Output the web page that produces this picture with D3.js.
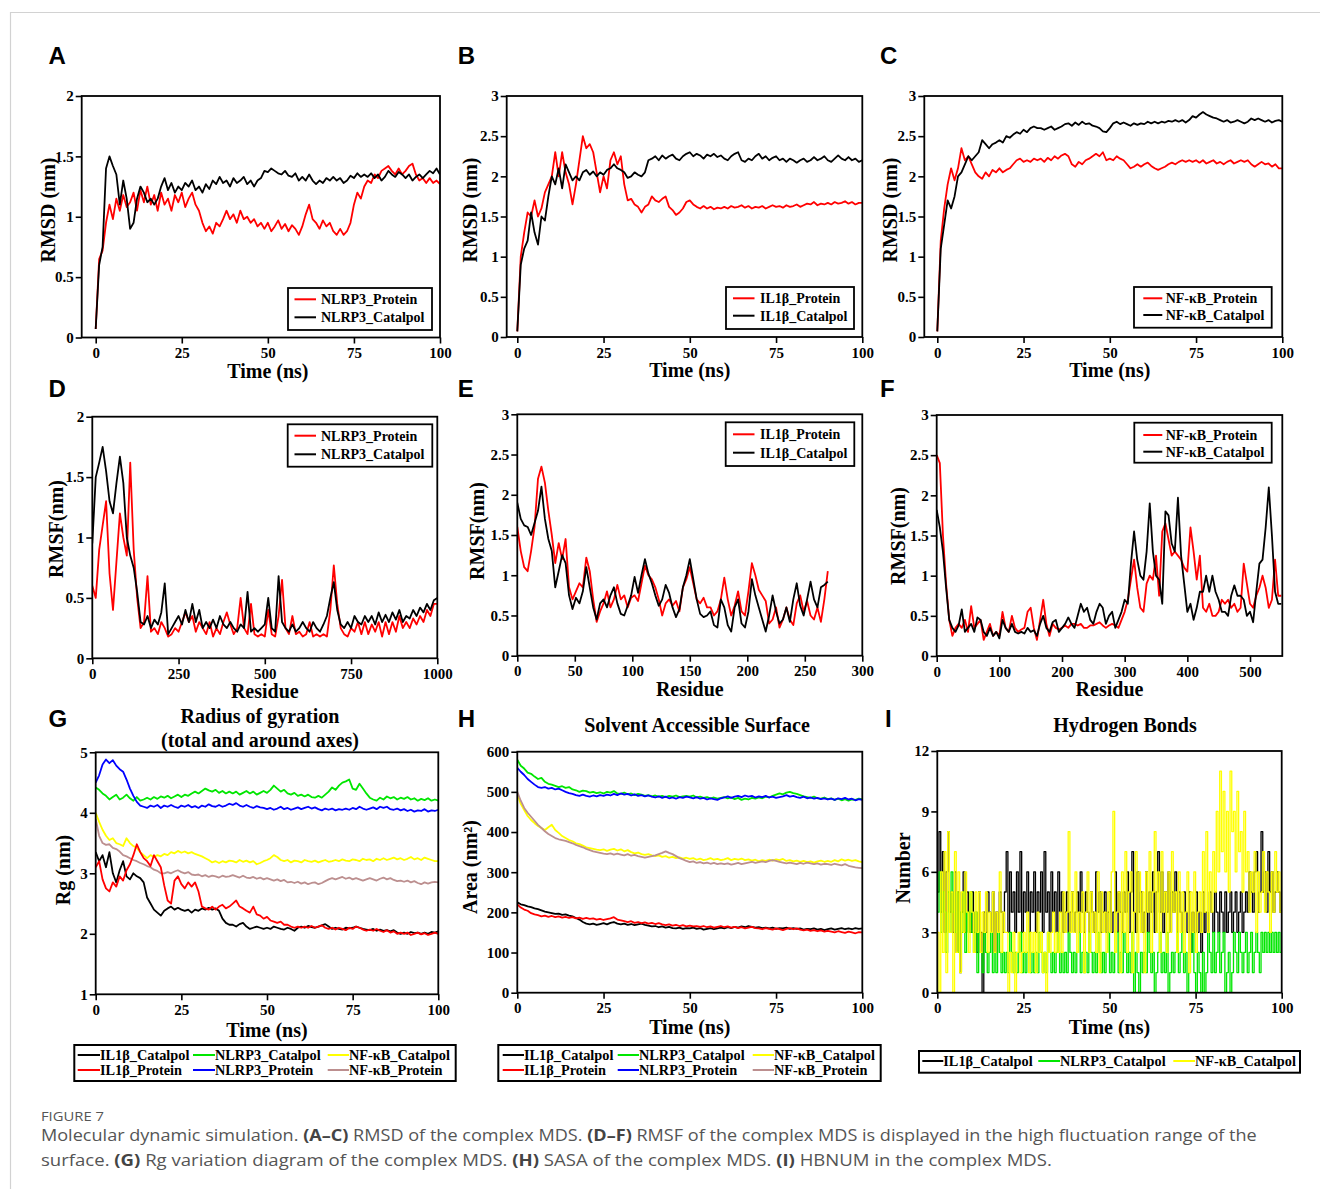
<!DOCTYPE html>
<html><head><meta charset="utf-8">
<script src="https://cdn.jsdelivr.net/npm/d3@7"></script>
<style>body{margin:0;background:#fff}svg{display:block}</style>
</head><body>
<script>
// ---------------- DATA ----------------
const timeNs = d3.range(0, 101, 1);            // 0..100 ns, 1 ns sampling
const hbondTime = d3.range(0, 100.25, 0.5);    // 0..100 ns, 0.5 ns sampling
const residueNlrp3 = d3.range(0, 1001, 10);
const residueIl1b = d3.range(0, 271, 3);
const residueNfkb = d3.range(0, 551, 5);

const timeTicks = [0, 25, 50, 75, 100];

// A: RMSD NLRP3
const rmsdNlrp3Protein = [0.07,0.65,0.72,0.95,1.1,0.98,1.15,1.05,1.18,1.08,
 1.12,1.2,1.05,1.22,1.12,1.25,1.1,1.18,1.05,1.2,
 1.1,1.15,1.05,1.18,1.12,1.2,1.08,1.15,1.2,1.1,
 1.05,0.95,0.88,0.92,0.86,0.95,0.92,0.98,1.05,0.98,
 1.02,0.95,1.05,0.98,1.0,0.95,0.98,0.92,0.95,0.9,
 0.95,0.88,0.92,0.97,0.9,0.94,0.88,0.93,0.9,0.85,
 0.92,1.02,1.1,0.98,0.95,0.9,0.97,0.92,0.95,0.88,
 0.85,0.9,0.85,0.88,0.95,1.1,1.2,1.15,1.25,1.3,
 1.28,1.35,1.32,1.38,1.4,1.42,1.38,1.35,1.4,1.35,
 1.38,1.42,1.44,1.35,1.3,1.32,1.28,1.32,1.28,1.3,1.27];
const rmsdNlrp3Catalpol = [0.07,0.6,0.75,1.4,1.5,1.42,1.35,1.1,1.3,1.15,
 0.9,0.95,1.15,1.25,1.2,1.12,1.15,1.1,1.15,1.25,
 1.32,1.22,1.28,1.2,1.25,1.22,1.28,1.25,1.3,1.22,
 1.25,1.2,1.27,1.23,1.3,1.27,1.33,1.28,1.3,1.25,
 1.32,1.28,1.3,1.33,1.27,1.3,1.25,1.3,1.32,1.38,
 1.37,1.4,1.38,1.36,1.35,1.38,1.34,1.33,1.36,1.3,
 1.33,1.3,1.35,1.3,1.27,1.3,1.28,1.32,1.3,1.33,
 1.3,1.32,1.28,1.3,1.34,1.32,1.36,1.33,1.35,1.33,
 1.36,1.32,1.35,1.3,1.33,1.38,1.35,1.33,1.37,1.35,
 1.32,1.35,1.3,1.33,1.35,1.32,1.35,1.38,1.36,1.4,1.35];

// B: RMSD IL1β
const rmsdIl1bProtein = [0.07,1.0,1.3,1.55,1.5,1.7,1.5,1.6,1.8,1.9,
 2.0,2.3,2.0,2.3,2.05,1.9,1.65,1.9,2.2,2.5,
 2.35,2.4,2.3,2.05,1.8,2.0,1.85,2.2,2.3,2.15,
 2.25,1.9,1.7,1.72,1.65,1.62,1.55,1.62,1.65,1.75,
 1.7,1.68,1.72,1.75,1.62,1.58,1.52,1.55,1.6,1.68,
 1.7,1.65,1.62,1.6,1.63,1.6,1.62,1.59,1.61,1.6,
 1.62,1.6,1.63,1.61,1.62,1.64,1.61,1.63,1.6,1.62,
 1.61,1.63,1.6,1.62,1.64,1.62,1.63,1.61,1.64,1.62,
 1.63,1.65,1.62,1.64,1.66,1.65,1.68,1.64,1.66,1.65,
 1.67,1.65,1.68,1.66,1.67,1.69,1.66,1.68,1.65,1.67,1.67];
const rmsdIl1bCatalpol = [0.07,0.9,1.1,1.2,1.55,1.3,1.15,1.5,1.45,1.75,
 2.0,1.9,2.1,1.85,2.15,2.05,1.95,2.0,1.95,2.05,
 2.08,2.02,2.06,2.0,2.05,2.02,2.08,2.1,2.15,2.1,
 2.08,2.05,1.98,2.0,2.05,2.02,2.0,2.05,2.2,2.22,
 2.25,2.2,2.26,2.22,2.25,2.27,2.22,2.2,2.25,2.28,
 2.3,2.25,2.28,2.26,2.22,2.27,2.25,2.28,2.24,2.26,
 2.22,2.2,2.25,2.28,2.3,2.2,2.18,2.22,2.2,2.25,
 2.28,2.22,2.25,2.2,2.23,2.25,2.2,2.22,2.18,2.22,
 2.2,2.17,2.2,2.22,2.18,2.2,2.24,2.2,2.22,2.25,
 2.2,2.18,2.22,2.26,2.22,2.2,2.24,2.2,2.22,2.18,2.2];

// C: RMSD NF-κB
const rmsdNfkbProtein = [0.07,1.2,1.6,1.9,2.1,1.95,2.1,2.35,2.2,2.25,
 2.15,2.05,2.0,1.97,2.05,2.0,2.08,2.05,2.1,2.05,
 2.08,2.1,2.15,2.2,2.22,2.18,2.2,2.18,2.22,2.2,
 2.22,2.18,2.23,2.2,2.25,2.22,2.26,2.28,2.25,2.15,
 2.12,2.18,2.15,2.2,2.22,2.25,2.28,2.25,2.3,2.2,
 2.22,2.2,2.25,2.22,2.2,2.15,2.1,2.12,2.15,2.12,
 2.15,2.17,2.13,2.1,2.08,2.1,2.12,2.15,2.17,2.15,
 2.18,2.2,2.18,2.2,2.18,2.2,2.17,2.2,2.16,2.18,
 2.2,2.16,2.18,2.15,2.18,2.2,2.16,2.18,2.2,2.18,
 2.2,2.15,2.12,2.15,2.18,2.15,2.16,2.12,2.15,2.1,2.1];
const rmsdNfkbCatalpol = [0.07,1.1,1.4,1.7,1.6,1.75,2.0,2.05,2.15,2.25,
 2.2,2.25,2.3,2.45,2.4,2.35,2.4,2.42,2.45,2.42,
 2.5,2.48,2.52,2.55,2.53,2.58,2.55,2.6,2.62,2.6,
 2.6,2.58,2.6,2.62,2.58,2.6,2.62,2.65,2.66,2.63,
 2.67,2.64,2.68,2.65,2.66,2.63,2.62,2.6,2.56,2.55,
 2.6,2.66,2.68,2.65,2.67,2.65,2.63,2.66,2.64,2.66,
 2.65,2.68,2.66,2.68,2.66,2.68,2.67,2.69,2.68,2.7,
 2.68,2.7,2.67,2.7,2.75,2.73,2.77,2.8,2.77,2.75,
 2.73,2.72,2.7,2.68,2.7,2.67,2.68,2.7,2.68,2.66,
 2.68,2.72,2.7,2.72,2.7,2.68,2.7,2.67,2.69,2.7,2.68];

// D: RMSF NLRP3 (residue 0..1000, step 10)
const rmsfNlrp3Protein = [0.6,0.5,0.9,1.1,1.3,0.7,0.4,0.8,1.2,1.0,
 0.85,1.62,0.9,0.5,0.25,0.3,0.68,0.22,0.25,0.2,
 0.3,0.25,0.18,0.2,0.25,0.22,0.3,0.38,0.3,0.35,
 0.22,0.3,0.25,0.2,0.3,0.18,0.25,0.2,0.3,0.38,
 0.28,0.2,0.25,0.5,0.25,0.2,0.45,0.2,0.18,0.2,
 0.18,0.4,0.2,0.18,0.35,0.65,0.25,0.2,0.35,0.2,
 0.22,0.18,0.2,0.3,0.18,0.2,0.18,0.2,0.18,0.4,
 0.77,0.45,0.25,0.2,0.18,0.25,0.22,0.3,0.2,0.3,
 0.2,0.28,0.22,0.3,0.18,0.3,0.2,0.3,0.22,0.35,
 0.25,0.3,0.25,0.33,0.28,0.35,0.3,0.4,0.35,0.45,0.45];
const rmsfNlrp3Catalpol = [0.95,1.5,1.62,1.75,1.55,1.3,1.2,1.45,1.67,1.45,
 1.0,0.85,0.75,0.55,0.3,0.28,0.35,0.25,0.32,0.28,
 0.38,0.62,0.2,0.25,0.3,0.35,0.28,0.4,0.3,0.45,
 0.3,0.4,0.25,0.3,0.25,0.32,0.25,0.35,0.28,0.25,
 0.3,0.25,0.22,0.28,0.25,0.55,0.22,0.25,0.22,0.25,
 0.28,0.5,0.25,0.22,0.68,0.3,0.25,0.22,0.28,0.22,
 0.25,0.3,0.25,0.22,0.3,0.25,0.22,0.28,0.35,0.5,
 0.63,0.4,0.28,0.25,0.3,0.25,0.35,0.3,0.28,0.35,
 0.3,0.35,0.28,0.38,0.3,0.36,0.3,0.38,0.32,0.4,
 0.3,0.35,0.33,0.4,0.35,0.42,0.38,0.45,0.4,0.48,0.5];

// E: RMSF IL1β (residue 0..270, step 3)
const rmsfIl1bProtein = [1.6,1.3,1.1,1.05,1.3,1.6,2.2,2.35,2.15,1.8,
 1.5,1.15,1.4,1.2,1.45,0.85,0.7,0.8,0.9,0.85,
 1.22,1.05,0.7,0.42,0.55,0.65,0.8,0.6,0.7,0.88,
 0.7,0.75,0.6,0.72,0.75,0.68,0.9,1.12,1.0,0.95,
 0.85,0.7,0.5,0.65,0.7,0.62,0.68,0.55,0.85,0.95,
 1.1,0.9,0.7,0.65,0.72,0.6,0.6,0.5,0.55,0.7,
 0.97,0.7,0.5,0.62,0.8,0.55,0.5,0.8,1.15,1.0,
 0.82,0.75,0.68,0.4,0.45,0.6,0.35,0.45,0.6,0.45,
 0.38,0.65,0.75,0.55,0.68,0.5,0.45,0.6,0.42,0.7,1.05];
const rmsfIl1bCatalpol = [1.9,1.7,1.62,1.6,1.5,1.65,1.8,2.1,1.7,1.45,
 1.3,0.85,1.05,1.25,1.15,0.75,0.58,0.72,0.65,0.8,
 1.1,0.85,0.6,0.45,0.65,0.7,0.6,0.75,0.85,0.65,
 0.52,0.5,0.62,0.75,0.98,0.78,1.0,1.2,1.02,0.9,
 0.75,0.62,0.7,0.88,0.78,0.6,0.48,0.58,0.85,1.0,
 1.2,0.95,0.7,0.52,0.48,0.5,0.55,0.38,0.35,0.7,
 0.6,0.38,0.3,0.6,0.7,0.4,0.35,0.55,0.95,0.75,
 0.6,0.45,0.3,0.5,0.75,0.55,0.4,0.45,0.6,0.42,
 0.7,0.9,0.62,0.5,0.7,0.92,0.7,0.6,0.85,0.88,0.92];

// F: RMSF NF-κB (residue 0..550, step 5)
const rmsfNfkbProtein = [2.5,2.4,1.5,0.9,0.45,0.25,0.35,0.4,0.35,0.45,
 0.3,0.62,0.35,0.4,0.45,0.2,0.3,0.4,0.25,0.3,
 0.25,0.55,0.35,0.3,0.5,0.35,0.3,0.33,0.35,0.55,
 0.6,0.35,0.2,0.45,0.7,0.4,0.25,0.4,0.35,0.33,
 0.35,0.38,0.35,0.4,0.4,0.38,0.4,0.35,0.35,0.38,
 0.38,0.4,0.42,0.38,0.35,0.38,0.4,0.38,0.35,0.45,
 0.55,0.7,0.95,1.2,0.85,0.6,0.55,0.9,1.0,0.95,
 1.25,0.75,1.55,1.65,1.45,1.25,1.3,1.25,1.2,1.1,
 1.05,1.6,1.3,0.95,1.25,0.6,0.55,0.65,0.5,0.5,
 0.55,0.7,0.65,0.7,0.6,0.65,0.55,0.6,1.15,0.9,
 0.65,0.6,0.75,0.85,1.0,0.85,0.6,0.7,1.2,0.75,0.75];
const rmsfNfkbCatalpol = [1.82,1.6,1.3,0.85,0.45,0.35,0.3,0.38,0.58,0.3,
 0.35,0.4,0.3,0.48,0.45,0.3,0.25,0.35,0.25,0.3,
 0.22,0.45,0.35,0.3,0.4,0.3,0.28,0.3,0.28,0.35,
 0.3,0.32,0.25,0.4,0.5,0.35,0.3,0.42,0.45,0.3,
 0.35,0.4,0.48,0.4,0.35,0.5,0.65,0.55,0.6,0.45,
 0.4,0.55,0.65,0.6,0.4,0.5,0.55,0.35,0.45,0.55,
 0.7,0.65,1.15,1.55,1.2,1.0,0.95,1.3,1.9,1.3,
 1.0,0.95,0.65,1.8,1.75,1.4,1.3,1.97,1.25,0.9,
 0.55,0.65,0.45,0.6,0.8,0.8,1.0,0.8,1.0,0.8,
 0.7,0.55,0.55,0.5,0.75,0.88,0.75,0.75,0.7,0.5,
 0.55,0.42,0.8,1.15,1.2,1.6,2.1,1.5,0.8,0.65,0.65];

// G: Radius of gyration
const rgIl1bCatalpol = [3.35,3.2,3.3,3.1,3.35,3.0,2.85,3.05,3.2,2.95,
 2.9,3.0,2.95,2.92,2.85,2.6,2.5,2.4,2.35,2.3,
 2.38,2.42,2.45,2.4,2.43,2.4,2.38,2.4,2.35,2.4,
 2.38,2.42,2.4,2.43,2.4,2.42,2.38,2.25,2.18,2.15,
 2.15,2.12,2.16,2.18,2.12,2.08,2.1,2.12,2.1,2.08,
 2.1,2.08,2.12,2.1,2.08,2.07,2.1,2.08,2.05,2.1,
 2.12,2.1,2.13,2.11,2.1,2.12,2.14,2.16,2.12,2.08,
 2.1,2.08,2.07,2.1,2.09,2.1,2.12,2.1,2.08,2.07,
 2.06,2.08,2.05,2.07,2.05,2.06,2.04,2.06,2.02,2.0,
 2.02,2.0,2.03,2.01,2.02,2.0,2.02,2.0,2.03,2.02,2.04];
const rgIl1bProtein = [3.1,3.2,2.9,2.75,2.7,2.85,2.78,2.95,2.88,3.05,
 3.15,3.3,3.48,3.35,3.25,3.2,3.12,3.3,3.2,3.1,
 2.8,2.55,2.5,2.88,2.95,2.82,2.75,2.85,2.78,2.85,
 2.7,2.45,2.42,2.4,2.45,2.4,2.45,2.48,2.42,2.45,
 2.5,2.55,2.45,2.42,2.38,2.35,2.45,2.32,2.3,2.25,
 2.28,2.22,2.2,2.18,2.2,2.15,2.15,2.12,2.1,2.12,
 2.1,2.12,2.1,2.13,2.1,2.12,2.14,2.1,2.08,2.1,
 2.07,2.1,2.08,2.06,2.1,2.08,2.12,2.1,2.07,2.05,
 2.07,2.05,2.08,2.05,2.03,2.06,2.02,2.04,2.0,2.02,
 2.0,2.02,1.98,2.0,2.02,1.99,2.01,1.98,2.0,2.02,2.0];
const rgNlrp3Catalpol = [4.42,4.38,4.32,4.28,4.22,4.26,4.3,4.22,4.25,4.3,
 4.24,4.2,4.26,4.2,4.22,4.25,4.22,4.26,4.23,4.27,
 4.25,4.28,4.24,4.27,4.3,4.26,4.3,4.28,4.32,4.35,
 4.32,4.36,4.4,4.37,4.35,4.38,4.33,4.36,4.32,4.35,
 4.32,4.35,4.3,4.33,4.36,4.32,4.35,4.3,4.33,4.36,
 4.33,4.38,4.45,4.4,4.35,4.38,4.32,4.3,4.33,4.28,
 4.3,4.27,4.3,4.26,4.25,4.28,4.25,4.3,4.35,4.42,
 4.38,4.45,4.5,4.52,4.55,4.4,4.38,4.48,4.4,4.32,
 4.25,4.22,4.2,4.25,4.22,4.27,4.24,4.26,4.22,4.25,
 4.23,4.26,4.22,4.24,4.2,4.23,4.21,4.24,4.2,4.22,4.2];
const rgNlrp3Protein = [4.5,4.62,4.8,4.88,4.82,4.87,4.78,4.72,4.68,4.55,
 4.4,4.28,4.18,4.12,4.1,4.08,4.12,4.1,4.13,4.08,
 4.12,4.1,4.13,4.1,4.08,4.12,4.1,4.13,4.09,4.11,
 4.08,4.12,4.1,4.14,4.11,4.1,4.13,4.1,4.12,4.15,
 4.13,4.16,4.12,4.1,4.13,4.1,4.08,4.11,4.09,4.08,
 4.06,4.08,4.05,4.07,4.1,4.06,4.08,4.05,4.07,4.09,
 4.06,4.08,4.1,4.07,4.09,4.06,4.04,4.07,4.05,4.07,
 4.04,4.06,4.05,4.07,4.05,4.08,4.06,4.1,4.07,4.05,
 4.07,4.09,4.06,4.1,4.08,4.1,4.06,4.05,4.07,4.04,
 4.06,4.03,4.05,4.02,4.04,4.03,4.06,4.02,4.04,4.03,4.05];
const rgNfkbCatalpol = [4.0,3.85,3.72,3.62,3.55,3.58,3.5,3.48,3.45,3.58,
 3.5,3.45,3.42,3.35,3.3,3.25,3.3,3.27,3.3,3.28,
 3.32,3.3,3.35,3.33,3.37,3.34,3.36,3.33,3.35,3.32,
 3.3,3.28,3.25,3.22,3.18,3.2,3.17,3.2,3.18,3.21,
 3.2,3.18,3.22,3.19,3.21,3.18,3.2,3.15,3.17,3.2,
 3.22,3.25,3.3,3.27,3.22,3.2,3.22,3.18,3.21,3.2,
 3.18,3.22,3.2,3.19,3.21,3.18,3.2,3.22,3.19,3.2,
 3.22,3.2,3.23,3.21,3.2,3.23,3.22,3.2,3.24,3.22,
 3.23,3.2,3.24,3.22,3.25,3.22,3.24,3.26,3.23,3.25,
 3.22,3.24,3.27,3.23,3.25,3.22,3.26,3.24,3.22,3.2,3.2];
const rgNfkbProtein = [3.9,3.62,3.5,3.47,3.48,3.42,3.4,3.36,3.3,3.28,
 3.25,3.22,3.2,3.17,3.15,3.12,3.1,3.06,3.04,3.0,
 3.0,3.02,3.0,3.03,3.05,3.02,3.0,3.02,2.98,2.97,
 2.98,2.95,2.97,2.94,2.96,2.95,2.93,2.96,2.94,2.95,
 2.97,2.95,2.93,2.96,2.93,2.92,2.94,2.91,2.93,2.9,
 2.92,2.9,2.88,2.9,2.87,2.89,2.85,2.86,2.84,2.86,
 2.83,2.85,2.82,2.84,2.85,2.82,2.84,2.87,2.9,2.92,
 2.9,2.92,2.94,2.91,2.93,2.9,2.92,2.9,2.88,2.9,
 2.92,2.9,2.88,2.91,2.93,2.9,2.92,2.89,2.87,2.88,
 2.86,2.88,2.85,2.87,2.84,2.82,2.85,2.83,2.85,2.86,2.85];

// H: Solvent accessible surface
const sasaIl1bCatalpol = [225,220,218,215,213,210,208,205,202,200,
 198,196,197,194,195,192,190,186,182,176,
 172,170,172,169,171,173,170,174,176,172,
 170,172,169,171,168,170,172,169,167,165,
 166,163,165,162,164,161,160,162,159,161,
 160,162,159,161,157,159,161,158,160,162,
 160,163,161,164,162,165,163,166,164,162,
 163,161,162,160,162,159,161,160,162,159,
 161,159,160,157,159,158,160,157,159,156,
 158,160,157,159,161,158,160,158,161,159,160];
const sasaIl1bProtein = [220,212,207,204,198,195,193,190,192,189,
 191,188,190,187,189,186,188,185,187,184,
 186,184,185,182,184,181,183,185,188,182,
 180,178,176,178,174,176,173,175,172,174,
 171,173,170,168,170,167,169,166,168,165,
 167,165,166,164,166,163,165,162,164,166,
 163,165,162,164,161,163,160,162,164,161,
 160,158,161,159,157,160,158,156,159,161,
 158,160,157,155,157,154,156,153,155,152,
 154,152,150,153,151,149,152,150,148,151,150];
const sasaNlrp3Catalpol = [580,565,558,548,545,538,532,535,525,520,
 518,515,512,514,510,512,506,504,500,503,
 502,498,500,497,499,496,500,498,502,496,
 495,498,494,496,492,495,493,490,492,489,
 491,488,490,487,490,488,491,487,489,490,
 488,491,486,488,485,487,484,486,483,485,
 487,484,486,482,485,480,483,481,485,483,
 486,484,488,486,490,493,496,494,498,500,
 497,495,492,489,487,485,488,484,483,486,
 482,484,480,483,479,482,478,481,480,483,482];
const sasaNlrp3Protein = [560,550,542,532,525,518,512,510,512,508,
 510,506,508,504,500,497,495,492,490,493,
 490,488,491,489,492,490,493,491,495,492,
 496,493,495,491,494,490,492,489,491,488,
 486,489,485,488,484,486,483,487,485,488,
 486,484,487,483,485,481,484,482,480,484,
 486,489,485,488,490,487,491,488,490,486,
 489,487,490,486,488,485,487,489,492,488,
 490,487,485,488,484,486,483,485,482,484,
 481,483,480,484,482,485,481,483,479,482,480];
const sasaNfkbCatalpol = [495,470,455,440,430,422,415,410,405,412,
 418,405,398,390,385,380,377,372,370,366,
 362,360,358,356,355,357,353,356,358,354,
 357,352,355,350,347,349,345,343,345,342,
 340,342,338,340,336,338,335,337,334,336,
 333,335,331,334,330,332,335,331,333,330,
 332,335,330,333,331,334,330,332,329,331,
 327,330,328,331,329,332,330,333,328,330,
 327,329,326,328,325,327,324,327,329,326,
 328,326,330,327,332,329,331,328,330,327,325];
const sasaNfkbProtein = [500,478,460,448,438,428,418,410,402,395,
 390,385,382,380,378,375,372,368,365,362,
 358,355,352,350,348,346,345,347,344,346,
 344,342,345,341,343,340,338,336,338,340,
 342,345,348,352,348,345,340,335,332,328,
 325,327,323,325,322,324,321,323,320,322,
 320,322,319,321,323,320,322,324,326,323,
 325,327,325,328,330,328,326,324,322,324,
 322,320,323,321,324,322,320,322,319,321,
 320,318,321,319,317,320,316,314,312,311,310];

// I: Hydrogen bonds (0.5 ns sampling)
const hbIl1bCatalpol = [5,8,4,7,3,6,8,4,5,3,6,2,5,1,4,6,3,5,4,3,
 5,3,4,2,5,3,0,4,3,5,4,3,5,2,4,3,5,4,3,5,
 7,3,6,4,5,3,6,4,7,3,5,4,6,3,5,4,6,3,5,4,
 6,3,7,4,5,3,6,4,5,3,6,4,5,3,4,5,3,4,5,3,
 4,5,3,6,4,3,5,4,3,5,4,3,6,4,5,3,4,5,3,4,
 5,3,4,6,3,5,4,3,5,4,6,3,5,7,4,3,6,4,5,3,
 4,6,3,5,4,6,3,5,7,4,6,3,5,4,6,3,5,4,6,3,
 5,4,3,5,4,3,5,2,4,3,5,3,4,2,5,3,4,3,5,4,
 3,5,4,3,5,4,3,5,3,4,5,3,4,5,3,4,5,3,4,5,
 4,6,5,4,6,7,4,5,8,5,6,4,7,5,6,4,5,6,5,4,5];
const hbNlrp3Catalpol = [4,6,3,5,4,2,5,3,6,4,3,5,2,4,3,5,2,4,3,5,
 3,2,4,1,3,2,1,3,2,1,2,3,1,2,1,3,2,1,2,1,
 2,1,3,2,1,2,1,2,3,1,2,1,2,3,1,2,1,2,1,3,
 2,1,2,1,3,2,1,2,1,2,3,1,2,1,2,1,3,2,1,2,
 1,2,3,1,2,1,2,1,3,2,1,2,1,3,2,1,2,1,2,3,
 1,2,1,2,3,1,2,1,3,2,1,2,1,3,0,2,1,0,2,1,
 2,1,3,2,1,2,0,1,2,3,1,2,1,3,0,1,2,1,2,3,
 1,2,3,1,2,0,1,2,3,1,0,2,1,0,2,0,1,3,2,1,
 3,1,2,3,1,2,3,0,1,2,0,1,3,2,1,3,2,1,2,3,
 1,2,3,1,2,3,2,1,3,2,3,2,3,2,3,2,3,2,3,2,3];
const hbNfkbCatalpol = [3,0,6,2,7,1,8,3,5,0,7,2,6,1,5,3,6,4,2,5,
 4,2,5,3,5,2,4,3,5,2,4,3,5,2,4,3,6,2,4,3,
 3,0,2,1,3,0,2,3,1,2,3,2,4,1,3,2,3,1,4,2,
 3,1,2,0,3,2,3,4,2,3,2,4,2,5,3,4,8,3,5,3,
 6,2,4,3,5,1,4,6,2,5,3,4,2,6,1,5,3,4,2,5,
 3,6,9,2,4,5,1,6,3,7,2,5,6,1,4,7,2,6,3,5,
 1,6,4,7,2,5,8,3,6,2,7,4,5,2,6,3,7,4,5,2,
 6,3,5,2,4,6,1,5,3,6,2,4,5,3,7,4,8,3,6,4,
 7,5,9,6,11,7,10,6,9,5,11,8,9,6,10,7,8,5,9,6,
 7,4,6,5,7,3,6,4,5,7,4,6,5,3,6,4,7,5,6,4,5];

// ---------------- DRAWING ----------------
const RED = '#ff0000', BLACK = '#000000', GREEN = '#00e600', BLUE = '#0000ff', YELLOW = '#ffff00', BROWN = '#bc8f8f';
const SERIF = "'Liberation Serif','Times New Roman',serif";
const SANS = "'Liberation Sans',Arial,sans-serif";

const svg = d3.select('body').append('svg').attr('width', 1320).attr('height', 1189);
svg.append('rect').attr('width', 1320).attr('height', 1189).attr('fill', '#fff');
svg.append('path').attr('d', 'M10.5,1189 V12.5 H1320').attr('fill', 'none').attr('stroke', '#d2d2d2').attr('stroke-width', 1.2);

const panels = [
 {id:'A', L:81.7,R:440,T:96,B:337.5, xd:[0,100], xr:[95.7,440], yd:[0,2], xt:timeTicks, yt:[0,0.5,1,1.5,2],
  xTitle:'Time (ns)', xTy:377.5, yTitle:'RMSD (nm)', yTx:48, yTy:210,
  series:[{x:timeNs,y:rmsdNlrp3Protein,c:RED,n:'NLRP3_Protein'},{x:timeNs,y:rmsdNlrp3Catalpol,c:BLACK,n:'NLRP3_Catalpol'}],
  leg:{box:[288,288,432,330], lx:[294.5,316], tx:321, rows:[299.3,317.3], order:[0,1]}},
 {id:'B', L:506.7,R:862.3,T:96,B:337, xd:[0,100], xr:[517.3,862.3], yd:[0,3], xt:timeTicks, yt:[0,0.5,1,1.5,2,2.5,3],
  xTitle:'Time (ns)', xTy:377, yTitle:'RMSD (nm)', yTx:470, yTy:210,
  series:[{x:timeNs,y:rmsdIl1bProtein,c:RED,n:'IL1β_Protein'},{x:timeNs,y:rmsdIl1bCatalpol,c:BLACK,n:'IL1β_Catalpol'}],
  leg:{box:[726,287,854,329], lx:[733,754.5], tx:760, rows:[298.3,315.7], order:[0,1]}},
 {id:'C', L:924.3,R:1282.3,T:96,B:337, xd:[0,100], xr:[937.3,1282.3], yd:[0,3], xt:timeTicks, yt:[0,0.5,1,1.5,2,2.5,3],
  xTitle:'Time (ns)', xTy:377, yTitle:'RMSD (nm)', yTx:890, yTy:210,
  series:[{x:timeNs,y:rmsdNfkbProtein,c:RED,n:'NF-κB_Protein'},{x:timeNs,y:rmsdNfkbCatalpol,c:BLACK,n:'NF-κB_Catalpol'}],
  leg:{box:[1134,287,1271.7,327.7], lx:[1143.3,1162.3], tx:1165.7, rows:[298.3,315], order:[0,1]}},
 {id:'D', L:92.3,R:437.3,T:416.7,B:658.3, xd:[0,1000], xr:[92.3,437.3], yd:[0,2], xt:[0,250,500,750,1000], yt:[0,0.5,1,1.5,2],
  xTitle:'Residue', xTy:698, yTitle:'RMSF(nm)', yTx:56, yTy:529,
  series:[{x:residueNlrp3,y:rmsfNlrp3Protein,c:RED,n:'NLRP3_Protein'},{x:residueNlrp3,y:rmsfNlrp3Catalpol,c:BLACK,n:'NLRP3_Catalpol'}],
  leg:{box:[287.7,424.3,432.3,466.7], lx:[294.5,316], tx:321, rows:[435.7,454.3], order:[0,1]}},
 {id:'E', L:517.3,R:862.3,T:414.3,B:655.7, xd:[0,300], xr:[517.3,862.3], yd:[0,3], xt:[0,50,100,150,200,250,300], yt:[0,0.5,1,1.5,2,2.5,3],
  xTitle:'Residue', xTy:695.5, yTitle:'RMSF(nm)', yTx:477, yTy:531,
  series:[{x:residueIl1b,y:rmsfIl1bProtein,c:RED,n:'IL1β_Protein'},{x:residueIl1b,y:rmsfIl1bCatalpol,c:BLACK,n:'IL1β_Catalpol'}],
  leg:{box:[725.7,422.3,854.3,466], lx:[733,754.5], tx:760, rows:[434.3,452.7], order:[0,1]}},
 {id:'F', L:936.7,R:1282.3,T:415,B:656, xd:[0,500], xr:[936.7,1250], yd:[0,3], xt:[0,100,200,300,400,500], yt:[0,0.5,1,1.5,2,2.5,3],
  xTitle:'Residue', xTy:696, yTitle:'RMSF(nm)', yTx:898, yTy:536,
  series:[{x:residueNfkb,y:rmsfNfkbProtein,c:RED,n:'NF-κB_Protein'},{x:residueNfkb,y:rmsfNfkbCatalpol,c:BLACK,n:'NF-κB_Catalpol'}],
  leg:{box:[1134.3,422.7,1271.7,462.7], lx:[1143.3,1162.3], tx:1165.7, rows:[435,451.7], order:[0,1]}},
 {id:'G', L:95.7,R:438.3,T:752.3,B:994.3, xd:[0,100], xr:[95.7,438.3], yd:[1,5], xt:timeTicks, yt:[1,2,3,4,5],
  xTitle:'Time (ns)', xTy:1037, yTitle:'Rg (nm)', yTx:63, yTy:870,
  title:['Radius of gyration','(total and around axes)'], titleX:260, titleY:[722.7,746.7],
  series:[{x:timeNs,y:rgNlrp3Catalpol,c:GREEN,n:'NLRP3_Catalpol'},{x:timeNs,y:rgNlrp3Protein,c:BLUE,n:'NLRP3_Protein'},
          {x:timeNs,y:rgNfkbCatalpol,c:YELLOW,n:'NF-κB_Catalpol'},{x:timeNs,y:rgNfkbProtein,c:BROWN,n:'NF-κB_Protein'},
          {x:timeNs,y:rgIl1bCatalpol,c:BLACK,n:'IL1β_Catalpol'},{x:timeNs,y:rgIl1bProtein,c:RED,n:'IL1β_Protein'}],
  grid:{box:[74.3,1045,455.7,1081], cols:[[77.7,100],[193,215],[327.7,349]], rows:[1055,1070],
        items:[[4,0,0],[0,1,0],[2,2,0],[5,0,1],[1,1,1],[3,2,1]]}},
 {id:'H', L:517.3,R:862.3,T:751.7,B:992.7, xd:[0,100], xr:[517.3,862.3], yd:[0,600], xt:timeTicks, yt:[0,100,200,300,400,500,600],
  xTitle:'Time (ns)', xTy:1033.5, yTitle:'Area (nm²)', yTx:470, yTy:867,
  title:['Solvent Accessible Surface'], titleX:697, titleY:[732.3],
  series:[{x:timeNs,y:sasaNlrp3Catalpol,c:GREEN,n:'NLRP3_Catalpol'},{x:timeNs,y:sasaNlrp3Protein,c:BLUE,n:'NLRP3_Protein'},
          {x:timeNs,y:sasaNfkbCatalpol,c:YELLOW,n:'NF-κB_Catalpol'},{x:timeNs,y:sasaNfkbProtein,c:BROWN,n:'NF-κB_Protein'},
          {x:timeNs,y:sasaIl1bCatalpol,c:BLACK,n:'IL1β_Catalpol'},{x:timeNs,y:sasaIl1bProtein,c:RED,n:'IL1β_Protein'}],
  grid:{box:[498.3,1045,880.7,1081], cols:[[502.7,524],[617.7,639],[752.7,774]], rows:[1055,1070],
        items:[[4,0,0],[0,1,0],[2,2,0],[5,0,1],[1,1,1],[3,2,1]]}},
 {id:'I', L:937.3,R:1281.7,T:751,B:992.7, xd:[0,100], xr:[937.3,1281.7], yd:[0,12], xt:timeTicks, yt:[0,3,6,9,12],
  xTitle:'Time (ns)', xTy:1033.5, yTitle:'Number', yTx:903, yTy:868,
  title:['Hydrogen Bonds'], titleX:1125, titleY:[732.3], lw:1.3, step:true,
  series:[{x:hbondTime,y:hbIl1bCatalpol,c:BLACK,n:'IL1β_Catalpol'},{x:hbondTime,y:hbNlrp3Catalpol,c:GREEN,n:'NLRP3_Catalpol'},
          {x:hbondTime,y:hbNfkbCatalpol,c:YELLOW,n:'NF-κB_Catalpol'}],
  grid:{box:[919,1051,1300,1072.7], cols:[[922.3,943.3],[1038.3,1060],[1173.3,1195]], rows:[1061],
        items:[[0,0,0],[1,1,0],[2,2,0]]}}
];

const letters = [['A',48.5,64],['B',457.7,64],['C',880,64],['D',48.5,397],['E',457.7,397],['F',880,397],['G',48.5,727],['H',457.7,727],['I',885,727]];
letters.forEach(([t,x,y]) => svg.append('text').attr('x',x).attr('y',y).text(t)
  .attr('font-family',SANS).attr('font-weight','bold').attr('font-size',24).attr('fill','#000'));

function txt(g, s, x, y, size, anchor) {
  return g.append('text').attr('x',x).attr('y',y).text(s).attr('font-family',SERIF).attr('font-weight','bold')
    .attr('font-size',size).attr('text-anchor',anchor||'start').attr('fill','#000');
}

panels.forEach(p => {
  const g = svg.append('g');
  const x = d3.scaleLinear().domain(p.xd).range(p.xr);
  const y = d3.scaleLinear().domain(p.yd).range([p.B, p.T]);
  const cid = 'clip' + p.id;
  svg.append('clipPath').attr('id', cid).append('rect').attr('x',p.L).attr('y',p.T).attr('width',p.R-p.L).attr('height',p.B-p.T);
  const lg = g.append('g').attr('clip-path', `url(#${cid})`);
  const line = d3.line().x(d => x(d[0])).y(d => y(d[1])).curve(p.step ? d3.curveStepAfter : d3.curveLinear);
  p.series.forEach(s => {
    const n = Math.min(s.x.length, s.y.length);
    const pts = d3.range(n).map(i => [s.x[i], s.y[i]]);
    lg.append('path').datum(pts).attr('d', line).attr('fill','none').attr('stroke', s.c)
      .attr('stroke-width', p.lw || 1.8).attr('stroke-linejoin','round');
  });
  // axes
  const xa = g.append('g').attr('transform', `translate(0,${p.B})`)
    .call(d3.axisBottom(x).tickValues(p.xt).tickSize(6).tickPadding(4).tickFormat(d => String(d)));
  const ya = g.append('g').attr('transform', `translate(${p.L},0)`)
    .call(d3.axisLeft(y).tickValues(p.yt).tickSize(6).tickPadding(2).tickFormat(d => String(d)));
  [xa, ya].forEach(a => {
    a.select('.domain').remove();
    a.selectAll('.tick line').attr('stroke','#000').attr('stroke-width',1.6);
    a.selectAll('.tick text').attr('font-family',SERIF).attr('font-weight','bold').attr('font-size',15).attr('fill','#000');
  });
  g.append('rect').attr('x',p.L).attr('y',p.T).attr('width',p.R-p.L).attr('height',p.B-p.T)
    .attr('fill','none').attr('stroke','#000').attr('stroke-width',1.8);
  // titles
  txt(g, p.xTitle, (p.xr[0] + p.R) / 2, p.xTy, 20, 'middle');
  txt(svg, p.yTitle, 0, 0, 20, 'middle').attr('dy','0.35em')
    .attr('transform', `translate(${p.yTx},${p.yTy}) rotate(-90)`);
  if (p.title) p.title.forEach((t, i) => txt(g, t, p.titleX, p.titleY[i], 20, 'middle'));
  // legends
  if (p.leg) {
    const [x0,y0,x1,y1] = p.leg.box;
    g.append('rect').attr('x',x0).attr('y',y0).attr('width',x1-x0).attr('height',y1-y0)
      .attr('fill','#fff').attr('stroke','#000').attr('stroke-width',1.8);
    p.leg.order.forEach((si, r) => {
      const s = p.series[si], yy = p.leg.rows[r];
      g.append('line').attr('x1',p.leg.lx[0]).attr('x2',p.leg.lx[1]).attr('y1',yy).attr('y2',yy).attr('stroke',s.c).attr('stroke-width',2);
      txt(g, s.n, p.leg.tx, yy + 5, 14);
    });
  }
  if (p.grid) {
    const [x0,y0,x1,y1] = p.grid.box;
    g.append('rect').attr('x',x0).attr('y',y0).attr('width',x1-x0).attr('height',y1-y0)
      .attr('fill','#fff').attr('stroke','#000').attr('stroke-width',2);
    p.grid.items.forEach(([si, c, r]) => {
      const s = p.series[si], yy = p.grid.rows[r], [lx0, lx1] = p.grid.cols[c];
      g.append('line').attr('x1',lx0).attr('x2',lx1).attr('y1',yy).attr('y2',yy).attr('stroke',s.c).attr('stroke-width',2);
      txt(g, s.n, lx1, yy + 5, 14.3);
    });
  }
});

// caption
const CAP = "'Open Sans','Noto Sans',sans-serif";
function capLine(parts, y, size, width) {
  const t = svg.append('text').attr('x',41).attr('y',y).attr('font-family',CAP).attr('font-size',size).attr('fill','#555');
  parts.forEach(([s, b]) => t.append('tspan').text(s).attr('font-weight', b ? 'bold' : 'normal').attr('fill', b ? '#444' : '#555'));
  const w = t.node().getBBox().width;
  t.attr('transform', `translate(41,0) scale(${width / w},1) translate(-41,0)`);
}
capLine([['FIGURE 7', false]], 1121, 13, 63);
capLine([['Molecular dynamic simulation. ',0],['(A–C)',1],[' RMSD of the complex MDS. ',0],['(D–F)',1],
  [' RMSF of the complex MDS is displayed in the high fluctuation range of the',0]], 1141.5, 16.5, 1217);
capLine([['surface. ',0],['(G)',1],[' Rg variation diagram of the complex MDS. ',0],['(H)',1],[' SASA of the complex MDS. ',0],
  ['(I)',1],[' HBNUM in the complex MDS.',0]], 1166, 16.5, 1012);
</script>
</body></html>
